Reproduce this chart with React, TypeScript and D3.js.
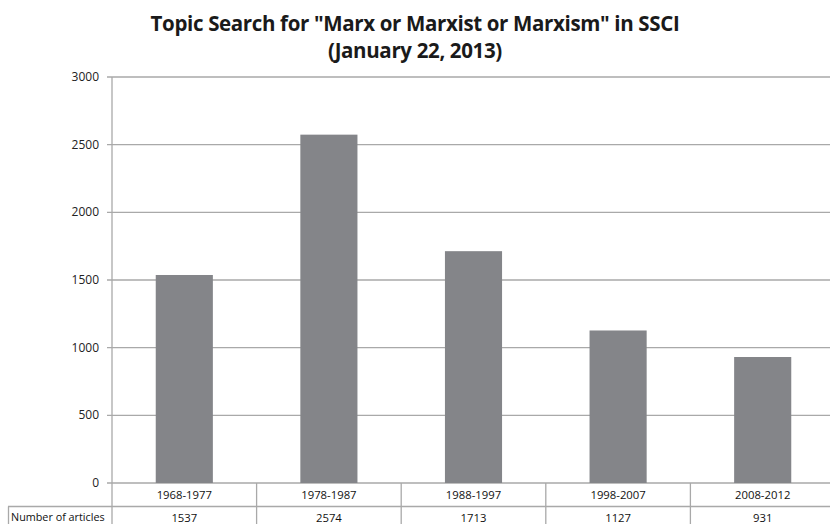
import React from "react";
import * as d3 from "d3";

const categories: string[] = ["1968-1977", "1978-1987", "1988-1997", "1998-2007", "2008-2012"];
const articles: number[] = [1537, 2574, 1713, 1127, 931];
const yTicks: number[] = [0, 500, 1000, 1500, 2000, 2500, 3000];
const seriesName = "Number of articles";
const titleLines: string[] = ['Topic Search for "Marx or Marxist or Marxism" in SSCI', "(January 22, 2013)"];

export default function App() {
  const W = 830, H = 524;
  const left = 112, right = 835, top = 77, bottom = 483;
  const x = d3.scaleBand<string>().domain(categories).range([left, right]).paddingInner(0).paddingOuter(0);
  const y = d3.scaleLinear().domain([0, 3000]).range([bottom, top]);
  const barW = x.bandwidth() * 0.395;
  const grid = "#a9a9a9";
  const font = "'Open Sans', 'Noto Sans', sans-serif";
  const row1 = bottom, row2 = 506.5;
  return (
    <svg width={W} height={H} style={{ position: "absolute", left: 0, top: 0, background: "#fff" }}>
      <rect x={0} y={0} width={W} height={H} fill="#fff" />
      {titleLines.map((t, i) => (
        <text key={i} x={415} y={31 + i * 27} textAnchor="middle" fontFamily={font} fontWeight="bold" fontSize={20.5} fill="#1a1a1a" letterSpacing={-0.35}>
          {t}
        </text>
      ))}
      {yTicks.map((v) => (
        <g key={v}>
          <line x1={107} x2={W} y1={y(v)} y2={y(v)} stroke={grid} strokeWidth={1.3} />
          <text x={99} y={y(v) + 4} textAnchor="end" fontFamily={font} fontSize={12} fill="#222">{v}</text>
        </g>
      ))}
      {categories.map((c, i) => (
        <rect key={c} x={x(c)! + (x.bandwidth() - barW) / 2} y={y(articles[i])} width={barW} height={bottom - y(articles[i])} fill="#848589" />
      ))}
      <line x1={left} x2={left} y1={top} y2={H} stroke={grid} strokeWidth={1.3} />
      {categories.map((c, i) => (
        <g key={"t" + c}>
          {i > 0 && <line x1={x(c)!} x2={x(c)!} y1={row1} y2={H} stroke={grid} strokeWidth={1.3} />}
          <text x={x(c)! + x.bandwidth() / 2} y={row1 + 16} textAnchor="middle" fontFamily={font} fontSize={11.3} fill="#111">{c}</text>
          <text x={x(c)! + x.bandwidth() / 2} y={row2 + 15} textAnchor="middle" fontFamily={font} fontSize={11.3} fill="#111">{articles[i]}</text>
        </g>
      ))}
      <line x1={8} x2={W} y1={row2} y2={row2} stroke={grid} strokeWidth={1.3} />
      <line x1={8.5} x2={8.5} y1={row2} y2={H} stroke={grid} strokeWidth={1.3} />
      <text x={11} y={row2 + 14} fontFamily={font} fontSize={10.8} fill="#111">{seriesName}</text>
    </svg>
  );
}
